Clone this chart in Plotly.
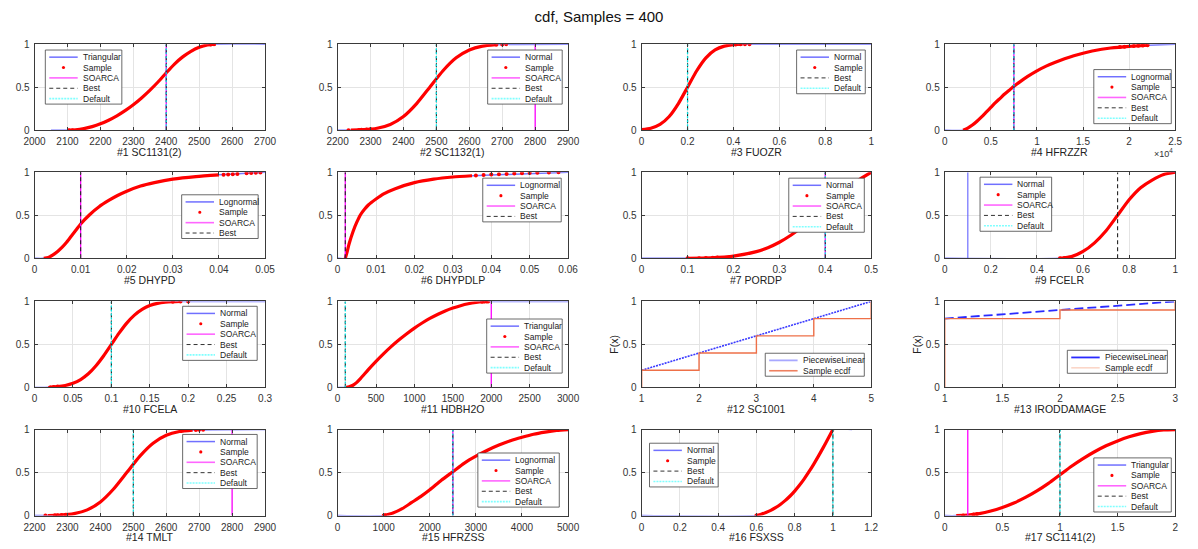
import plotly.graph_objects as go

# ======================= DATA =======================
# CDF points (x, F), tail sample dots, vertical markers
cdf1_x = [2100, 2125, 2150, 2175, 2200, 2225, 2250, 2275, 2300, 2325, 2350, 2375, 2400, 2425, 2450, 2475, 2500, 2525, 2550]
cdf1_y = [0.0, 0.005, 0.019, 0.042, 0.074, 0.116, 0.167, 0.227, 0.296, 0.375, 0.463, 0.560, 0.667, 0.769, 0.852, 0.917, 0.963, 0.991, 1.0]
tail1_x = [2105, 2115, 2535, 2545]
tail1_y = [0.0, 0.001, 0.997, 0.999]

cdf2_x = [2240, 2280, 2320, 2360, 2400, 2440, 2480, 2520, 2560, 2600, 2640, 2680]
cdf2_y = [0.001, 0.006, 0.023, 0.067, 0.159, 0.309, 0.5, 0.691, 0.841, 0.933, 0.977, 0.994]
tail2_x = [2233, 2265, 2272, 2288, 2300, 2682, 2700, 2712]
tail2_y = [0.001, 0.004, 0.005, 0.009, 0.012, 0.994, 0.997, 0.998]

cdf3_x = [0.0, 0.04, 0.08, 0.12, 0.16, 0.2, 0.24, 0.28, 0.32, 0.36, 0.40, 0.44]
cdf3_y = [0.006, 0.023, 0.067, 0.159, 0.309, 0.5, 0.691, 0.841, 0.933, 0.977, 0.994, 0.999]
tail3_x = [0.41, 0.43, 0.45, 0.47]
tail3_y = [0.996, 0.998, 0.999, 1.0]

cdf4_x = [0.2, 0.25, 0.3, 0.35, 0.4, 0.45, 0.5, 0.55, 0.6, 0.65, 0.7, 0.75, 0.8, 0.9, 1.0, 1.1, 1.2, 1.3, 1.4, 1.5, 1.6, 1.8, 2.0, 2.2]
cdf4_y = [0.0, 0.025, 0.06, 0.105, 0.155, 0.21, 0.265, 0.32, 0.37, 0.42, 0.465, 0.51, 0.55, 0.625, 0.69, 0.745, 0.79, 0.83, 0.865, 0.895, 0.92, 0.955, 0.975, 0.988]
tail4_x = [1.9, 1.95, 2.05, 2.1, 2.15, 2.2]
tail4_y = [0.966, 0.97, 0.978, 0.982, 0.985, 0.988]

cdf5_x = [0.002, 0.003, 0.004, 0.005, 0.006, 0.007, 0.008, 0.009, 0.010, 0.012, 0.014, 0.016, 0.018, 0.020, 0.023, 0.026, 0.030, 0.035, 0.040]
cdf5_y = [0.0, 0.01, 0.04, 0.08, 0.13, 0.19, 0.26, 0.33, 0.40, 0.51, 0.60, 0.67, 0.73, 0.78, 0.84, 0.88, 0.92, 0.95, 0.97]
tail5_x = [0.041, 0.042, 0.043, 0.044, 0.046, 0.047, 0.048, 0.049]
tail5_y = [0.972, 0.975, 0.978, 0.98, 0.99, 0.992, 0.995, 0.997]

cdf6_x = [0.002, 0.0025, 0.003, 0.004, 0.005, 0.006, 0.007, 0.008, 0.010, 0.012, 0.015, 0.020, 0.025, 0.030, 0.035]
cdf6_y = [0.0, 0.08, 0.17, 0.31, 0.42, 0.51, 0.57, 0.62, 0.69, 0.75, 0.81, 0.88, 0.92, 0.945, 0.96]
tail6_x = [0.036, 0.038, 0.040, 0.042, 0.044, 0.046, 0.048, 0.050, 0.052, 0.055, 0.0575]
tail6_y = [0.962, 0.968, 0.973, 0.977, 0.981, 0.985, 0.988, 0.991, 0.994, 0.997, 1.0]

cdf7_x = [0.1, 0.15, 0.2, 0.25, 0.275, 0.3, 0.325, 0.35, 0.375, 0.4, 0.425, 0.45, 0.475, 0.5]
cdf7_y = [0.0, 0.006, 0.026, 0.078, 0.124, 0.187, 0.268, 0.366, 0.476, 0.594, 0.711, 0.822, 0.919, 1.0]
tail7_x = [0.1, 0.125, 0.14, 0.155, 0.165]
tail7_y = [0.0, 0.002, 0.004, 0.007, 0.01]

cdf9_x = [0.5, 0.55, 0.6, 0.65, 0.7, 0.75, 0.8, 0.85, 0.9, 0.95, 1.0]
cdf9_y = [0.0, 0.02, 0.08, 0.18, 0.32, 0.5, 0.68, 0.82, 0.91, 0.975, 1.0]
tail9_x = [0.5, 0.52]
tail9_y = [0.0, 0.005]

cdf10_x = [0.02, 0.03, 0.04, 0.05, 0.06, 0.07, 0.08, 0.09, 0.10, 0.11, 0.12, 0.13, 0.14, 0.15, 0.16, 0.17, 0.18, 0.19]
cdf10_y = [0.004, 0.01, 0.023, 0.048, 0.092, 0.159, 0.253, 0.369, 0.5, 0.631, 0.748, 0.841, 0.908, 0.952, 0.977, 0.99, 0.996, 0.999]
tail10_x = [0.02, 0.025, 0.03, 0.18, 0.19, 0.2]
tail10_y = [0.0, 0.005, 0.01, 0.996, 0.999, 1.0]

cdf11_x = [100, 150, 200, 250, 300, 400, 500, 600, 700, 800, 900, 1000, 1100, 1200, 1300, 1400, 1500, 1600, 1700, 1800, 1900, 1950]
cdf11_y = [0.0, 0.007, 0.026, 0.059, 0.105, 0.207, 0.303, 0.393, 0.477, 0.554, 0.625, 0.690, 0.749, 0.802, 0.848, 0.889, 0.923, 0.950, 0.972, 0.988, 0.997, 0.999]
tail11_x = [1880, 1910, 1940, 1960]
tail11_y = [0.995, 0.998, 0.999, 1.0]

pl12_x = [1, 2, 3, 4, 5]
pl12_y = [0.2, 0.4, 0.6, 0.8, 1.0]
ecdf12_x = [1, 1, 2, 3, 4, 5]
ecdf12_y = [0.0, 0.2, 0.4, 0.6, 0.8, 1.0]

pl13_x = [1, 2, 3]
pl13_y = [0.8, 0.9, 1.0]
ecdf13_x = [1, 1, 2, 3]
ecdf13_y = [0.0, 0.8, 0.9, 1.0]

cdf14_x = [2240, 2280, 2320, 2360, 2400, 2440, 2480, 2520, 2560, 2600, 2640, 2680]
cdf14_y = [0.001, 0.006, 0.023, 0.067, 0.159, 0.309, 0.5, 0.691, 0.841, 0.933, 0.977, 0.994]
tail14_x = [2233, 2262, 2270, 2282, 2295, 2690, 2700, 2712]
tail14_y = [0.001, 0.004, 0.005, 0.008, 0.011, 0.995, 0.997, 0.998]

cdf15_x = [1000, 1200, 1400, 1600, 1800, 2000, 2250, 2500, 2750, 3000, 3250, 3500, 3750, 4000, 4250, 4500, 4750, 5000]
cdf15_y = [0.0, 0.03, 0.08, 0.15, 0.22, 0.30, 0.41, 0.51, 0.61, 0.69, 0.76, 0.82, 0.87, 0.91, 0.945, 0.97, 0.99, 1.0]
tail15_x = [1000, 1030]
tail15_y = [0.0, 0.005]

cdf16_x = [0.6, 0.625, 0.65, 0.675, 0.7, 0.725, 0.75, 0.775, 0.8, 0.825, 0.85, 0.875, 0.9, 0.925, 0.95, 0.975, 1.0]
cdf16_y = [0.0, 0.016, 0.036, 0.061, 0.092, 0.13, 0.174, 0.225, 0.285, 0.352, 0.427, 0.51, 0.599, 0.694, 0.793, 0.896, 1.0]
tail16_x = [0.6]
tail16_y = [0.0]

cdf17_x = [0.1, 0.2, 0.3, 0.4, 0.5, 0.6, 0.7, 0.8, 0.9, 1.0, 1.1, 1.2, 1.3, 1.4, 1.5, 1.6, 1.7, 1.8, 1.9, 2.0]
cdf17_y = [0.0, 0.006, 0.023, 0.053, 0.094, 0.146, 0.211, 0.287, 0.374, 0.474, 0.574, 0.663, 0.742, 0.811, 0.868, 0.916, 0.953, 0.979, 0.995, 1.0]
tail17_x = [0.16, 0.25, 0.28]
tail17_y = [0.002, 0.013, 0.018]

# panel meta data
panel_titles = ["#1 SC1131(2)", "#2 SC1132(1)", "#3 FUOZR", "#4 HFRZZR",
                "#5 DHYPD", "#6 DHYPDLP", "#7 PORDP", "#9 FCELR",
                "#10 FCELA", "#11 HDBH2O", "#12 SC1001", "#13 IRODDAMAGE",
                "#14 TMLT", "#15 HFRZSS", "#16 FSXSS", "#17 SC1141(2)"]
y_titles = [None, None, None, None, None, None, None, None,
            None, None, "F(x)", "F(x)", None, None, None, None]
dist_names = ["Triangular", "Normal", "Normal", "Lognormal",
              "Lognormal", "Lognormal", "Normal", "Normal",
              "Normal", "Triangular", None, None,
              "Normal", "Lognormal", "Normal", "Triangular"]
dist_lo = [2050, 2200, 0, 0, 0, 0, 0, 0, 0, 0, None, None, 2200, 0, 0, 0]
dist_hi = [2700, 2900, 1, 2.5, 0.05, 0.06, 0.5, 1, 0.3, 3000, None, None, 2900, 5000, 1.1, 2]
dist_extra_v = [None, None, None, None, None, None, None, 0.1, None, None, None, None, None, None, None, None]
soarca_v = [2400, 2800, None, 0.75, 0.01, 0.002, 0.4, None, None, 2000, None, None, 2800, 2500, None, 0.2]
best_v = [2400, 2500, 0.2, 0.75, 0.01, 0.002, 0.4, 0.75, 0.1, 100, None, None, 2500, 2500, 1.0, 1.0]
default_v = [2400, 2500, 0.2, 0.75, None, None, 0.4, None, 0.1, 100, None, None, 2500, 2500, 1.0, 1.0]
x_ranges = [(2000, 2700), (2200, 2900), (0, 1), (0, 2.5), (0, 0.05), (0, 0.06), (0, 0.5), (0, 1),
            (0, 0.3), (0, 3000), (1, 5), (1, 3), (2200, 2900), (0, 5000), (0, 1.2), (0, 2)]
x_dticks = [100, 100, 0.2, 0.5, 0.01, 0.01, 0.1, 0.2, 0.05, 500, 1, 0.5, 100, 1000, 0.2, 0.5]

cdfs = [(cdf1_x, cdf1_y, tail1_x, tail1_y), (cdf2_x, cdf2_y, tail2_x, tail2_y),
        (cdf3_x, cdf3_y, tail3_x, tail3_y), (cdf4_x, cdf4_y, tail4_x, tail4_y),
        (cdf5_x, cdf5_y, tail5_x, tail5_y), (cdf6_x, cdf6_y, tail6_x, tail6_y),
        (cdf7_x, cdf7_y, tail7_x, tail7_y), (cdf9_x, cdf9_y, tail9_x, tail9_y),
        (cdf10_x, cdf10_y, tail10_x, tail10_y), (cdf11_x, cdf11_y, tail11_x, tail11_y),
        None, None,
        (cdf14_x, cdf14_y, tail14_x, tail14_y), (cdf15_x, cdf15_y, tail15_x, tail15_y),
        (cdf16_x, cdf16_y, tail16_x, tail16_y), (cdf17_x, cdf17_y, tail17_x, tail17_y)]

# ======================= LAYOUT / STYLE =======================
W, H = 1198, 549
COLS = [(24, 259), (333, 568), (643, 877), (952, 1187)]
ROWS = [(39, 127), (170, 258), (302, 390), (433, 521)]
FONT = "Liberation Sans, Arial, sans-serif"

# legend boxes: (left px, top px, width px, items)
LEG = [
    (35, 45, 78, ["dist", "sample", "soarca", "best", "default"]),
    (486, 45, 76, ["dist", "sample", "soarca", "best", "default"]),
    (801, 45, 70, ["dist", "sample", "best", "default"]),
    (1104, 65, 79, ["dist", "sample", "soarca", "best", "default"]),
    (174, 193, 78, ["dist", "sample", "soarca", "best"]),
    (481, 176, 80, ["dist", "sample", "soarca", "best"]),
    (793, 176, 77, ["dist", "sample", "soarca", "best", "default"]),
    (988, 175, 73, ["dist", "sample", "soarca", "best", "default"]),
    (175, 307, 76, ["dist", "sample", "soarca", "best", "default"]),
    (485, 320, 77, ["dist", "sample", "soarca", "best", "default"]),
    (769, 355, 101, ["pl", "ecdf"]),
    (1077, 352, 102, ["pl", "ecdf"]),
    (175, 438, 76, ["dist", "sample", "soarca", "best", "default"]),
    (476, 457, 83, ["dist", "sample", "soarca", "best", "default"]),
    (651, 447, 70, ["dist", "sample", "best", "default"]),
    (1104, 462, 79, ["dist", "sample", "soarca", "best", "default"]),
]

DIST_C = "rgba(40,40,255,0.65)"
RED = "#ff0000"


def px(x):
    return x / W


def py(y):
    return 1 - y / H


fig = go.Figure()
shapes = []
annotations = []

for i in range(16):
    r, c = divmod(i, 4)
    n = "" if i == 0 else str(i + 1)
    xa, ya = "x" + n, "y" + n

    def add(**kw):
        fig.add_trace(go.Scatter(xaxis=xa, yaxis=ya, showlegend=False, hoverinfo="skip", **kw))

    if cdfs[i] is not None:
        cx, cy, tx, ty = cdfs[i]
        add(x=[dist_lo[i]] + cx + [dist_hi[i]], y=[0] + cy + [1], mode="lines",
            line=dict(color=DIST_C, width=1.5, shape="spline", smoothing=0.6))
        if dist_extra_v[i] is not None:
            add(x=[dist_extra_v[i]] * 2, y=[0, 1], mode="lines",
                line=dict(color="rgba(90,90,255,0.7)", width=1.5))
        add(x=cx, y=cy, mode="lines", line=dict(color=RED, width=3.2, shape="spline", smoothing=0.6))
        add(x=tx, y=ty, mode="markers", marker=dict(color=RED, size=4, line=dict(width=0)))
        if soarca_v[i] is not None:
            add(x=[soarca_v[i]] * 2, y=[0, 1], mode="lines", line=dict(color="#ff00ff", width=1.3))
        if best_v[i] is not None:
            add(x=[best_v[i]] * 2, y=[0, 1], mode="lines", line=dict(color="#222222", width=1.1, dash="4px,3px"))
        if default_v[i] is not None:
            add(x=[default_v[i]] * 2, y=[0, 1], mode="lines", line=dict(color="#00e8e8", width=1.3, dash="2px,2px"))
    elif i == 10:
        add(x=pl12_x, y=pl12_y, mode="lines", line=dict(color="#3a3aff", width=1.6, dash="2px,1px"))
        add(x=ecdf12_x, y=ecdf12_y, mode="lines", line=dict(color="#ee7048", width=1.4, shape="hv"))
    else:
        add(x=pl13_x, y=pl13_y, mode="lines", line=dict(color="#2a2aff", width=1.8, dash="9px,4px"))
        add(x=ecdf13_x, y=ecdf13_y, mode="lines", line=dict(color="#ee7048", width=1.4, shape="hv"))

    c0, c1 = COLS[c]
    r0, r1 = ROWS[r]
    common = dict(showline=True, mirror="ticks", linecolor="#3a3a3a", linewidth=1,
                  ticks="inside", ticklen=3, tickcolor="#3a3a3a", showgrid=True,
                  gridcolor="#e4e4e4", gridwidth=1, zeroline=False, ticklabelstandoff=2,
                  tickfont=dict(family=FONT, size=10, color="#333333"))
    fig.layout["xaxis" + n] = dict(domain=[px(c0), px(c1)], anchor=ya, range=list(x_ranges[i]),
                                   tick0=x_ranges[i][0], dtick=x_dticks[i], **common)
    yax = dict(domain=[py(r1), py(r0)], anchor=xa, range=[0, 1], tick0=0, dtick=0.5, **common)
    if y_titles[i]:
        yax["title"] = dict(text=y_titles[i], standoff=2, font=dict(family=FONT, size=10.5, color="#222222"))
    fig.layout["yaxis" + n] = yax

    # x-axis caption
    annotations.append(dict(text=panel_titles[i], x=px((c0 + c1) / 2), y=py(r1 + 22), xref="paper", yref="paper",
                            showarrow=False, xanchor="center", yanchor="middle",
                            font=dict(family=FONT, size=10.5, color="#222222")))

    # ---- legend box ----
    left, top, wid, items = LEG[i]
    step = 10.6
    hgt = 7.3 + step * (len(items) - 1) + 5.6
    shapes.append(dict(type="rect", xref="paper", yref="paper", x0=px(left), x1=px(left + wid),
                       y0=py(top + hgt), y1=py(top), fillcolor="white", line=dict(color="#444444", width=0.8)))
    for k, it in enumerate(items):
        yc = top + 7.3 + step * k
        lx0, lx1 = left + 4, left + 33
        if it == "dist":
            label = dist_names[i]
            shapes.append(dict(type="line", xref="paper", yref="paper", x0=px(lx0), x1=px(lx1), y0=py(yc), y1=py(yc),
                               line=dict(color="#7070ff", width=1.5)))
        elif it == "sample":
            label = "Sample"
            xm = (lx0 + lx1) / 2
            shapes.append(dict(type="circle", xref="paper", yref="paper", x0=px(xm - 1.6), x1=px(xm + 1.6),
                               y0=py(yc + 1.6), y1=py(yc - 1.6), fillcolor=RED, line=dict(width=0)))
        elif it == "soarca":
            label = "SOARCA"
            shapes.append(dict(type="line", xref="paper", yref="paper", x0=px(lx0), x1=px(lx1), y0=py(yc), y1=py(yc),
                               line=dict(color="#ff66ff", width=1.6)))
        elif it == "best":
            label = "Best"
            shapes.append(dict(type="line", xref="paper", yref="paper", x0=px(lx0), x1=px(lx1), y0=py(yc), y1=py(yc),
                               line=dict(color="#333333", width=1, dash="4px,3px")))
        elif it == "default":
            label = "Default"
            shapes.append(dict(type="line", xref="paper", yref="paper", x0=px(lx0), x1=px(lx1), y0=py(yc), y1=py(yc),
                               line=dict(color="#80ffff", width=1.6, dash="2px,1px")))
        elif it == "pl":
            label = "PiecewiseLinear"
            col = "#a8a8ff" if i == 10 else "#2a2aff"
            shapes.append(dict(type="line", xref="paper", yref="paper", x0=px(lx0), x1=px(lx1), y0=py(yc), y1=py(yc),
                               line=dict(color=col, width=1.8)))
        else:
            label = "Sample ecdf"
            col = "#ee8060" if i == 10 else "#fbd6c8"
            shapes.append(dict(type="line", xref="paper", yref="paper", x0=px(lx0), x1=px(lx1), y0=py(yc), y1=py(yc),
                               line=dict(color=col, width=1.6)))
        annotations.append(dict(text=label, x=px(lx1 + 3), y=py(yc), xref="paper", yref="paper",
                                showarrow=False, xanchor="left", yanchor="middle",
                                font=dict(family=FONT, size=8.5, color="#222222")))

# exponent for #4 axis
annotations.append(dict(text="\u00d710<sup>4</sup>", x=px(1187), y=py(150), xref="paper", yref="paper",
                        showarrow=False, xanchor="right", yanchor="middle",
                        font=dict(family=FONT, size=9, color="#333333")))

fig.update_layout(
    width=W, height=H, autosize=False,
    margin=dict(l=0, r=0, t=0, b=0),
    paper_bgcolor="white", plot_bgcolor="white",
    showlegend=False,
    title=dict(text="cdf, Samples = 400", x=0.5, xanchor="center", y=py(17), yanchor="middle",
               font=dict(family=FONT, size=15, color="#111111")),
    shapes=shapes, annotations=annotations,
)

fig.write_html("out.html")
